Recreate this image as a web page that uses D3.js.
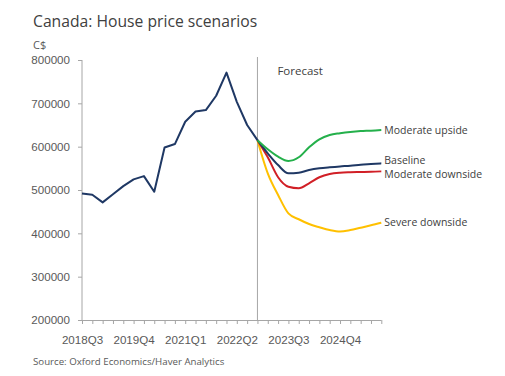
<!DOCTYPE html>
<html>
<head>
<meta charset="utf-8">
<script src="https://cdn.jsdelivr.net/npm/d3@7"></script>
<style>
  body { margin: 0; background: #fff; }
  svg { display: block; font-family: "Open Sans", "Noto Sans", sans-serif; }
  .axis path, .axis line { stroke: #a6a6a6; }
  .axis text { fill: #595959; font-size: 11.6px; }
</style>
</head>
<body>
<svg></svg>
<script>
// quarters on the category axis
const quarters = [
  "2018Q3", "2018Q4", "2019Q1", "2019Q2", "2019Q3", "2019Q4",
  "2020Q1", "2020Q2", "2020Q3", "2020Q4", "2021Q1", "2021Q2",
  "2021Q3", "2021Q4", "2022Q1", "2022Q2", "2022Q3", "2022Q4",
  "2023Q1", "2023Q2", "2023Q3", "2023Q4", "2024Q1", "2024Q2",
  "2024Q3", "2024Q4", "2025Q1", "2025Q2", "2025Q3", "2025Q4"
];
const tickLabels = ["2018Q3", "2019Q4", "2021Q1", "2022Q2", "2023Q3", "2024Q4"];
const yTicks = [200000, 300000, 400000, 500000, 600000, 700000, 800000];

// history, 2018Q3 - 2022Q4
const history = [
  492000, 489000, 471500, 490000, 509000, 524500, 532000, 496000, 598000,
  606000, 657500, 681000, 684500, 717500, 771000, 703500, 650000, 615000
];

// scenarios, 2022Q4 - 2025Q4
const forecastStart = "2022Q4";
const upside = [615000, 594000, 577000, 567000, 575500, 598500, 617000, 627000, 631000, 634000, 636000, 637000, 638500];
const baseline = [615000, 584500, 557500, 538500, 540000, 546000, 550000, 552500, 554500, 556000, 558500, 560000, 561500];
const modDownside = [615000, 575500, 529500, 507500, 504000, 515500, 529500, 537000, 540000, 541000, 541500, 542000, 543000];
const severe = [615000, 538500, 488500, 446000, 432500, 421500, 414000, 407500, 404000, 407500, 413000, 418500, 424500];

const scenarioNames = ["Moderate upside", "Baseline", "Moderate downside", "Severe downside"];
const scenarioValues = [upside, baseline, modDownside, severe];
const scenarioColors = ["#24b04b", "#1f3864", "#d11f26", "#ffc000"];

const width = 505;
const height = 376;
const mLeft = 82, mRight = 381.3, mTop = 60, mBottom = 320;

const svg = d3.select("svg")
  .attr("width", width)
  .attr("height", height);

const x = d3.scalePoint().domain(quarters).range([mLeft, mRight]);
const y = d3.scaleLinear().domain([200000, 800000]).range([mBottom, mTop]);

// axes
const xAxis = d3.axisBottom(x)
  .tickSize(4)
  .tickFormat(d => tickLabels.includes(d) ? d : "");
svg.append("g")
  .attr("class", "axis")
  .attr("transform", `translate(0, ${mBottom})`)
  .call(xAxis)
  .call(g => g.select(".domain").attr("d", `M${mLeft},0.5H${mRight}`))
  .call(g => g.selectAll("text").attr("dy", "1.5em"));

const yAxis = d3.axisLeft(y)
  .tickValues(yTicks)
  .tickSize(4)
  .tickPadding(8)
  .tickFormat(d3.format("d"));
svg.append("g")
  .attr("class", "axis")
  .attr("transform", `translate(${mLeft}, 0)`)
  .call(yAxis)
  .call(g => g.select(".domain").attr("d", `M0,${mTop}V${mBottom}`));

// forecast divider
svg.append("line")
  .attr("x1", x(forecastStart)).attr("x2", x(forecastStart))
  .attr("y1", 57).attr("y2", mBottom)
  .attr("stroke", "#a6a6a6")
  .attr("stroke-width", 1);

svg.append("text")
  .attr("x", x(forecastStart) + 20)
  .attr("y", 75)
  .attr("fill", "#404040")
  .style("font-size", "11.5px")
  .text("Forecast");

// lines
const line = d3.line()
  .x(d => x(d[0]))
  .y(d => y(d[1]));

const fq = quarters.slice(quarters.indexOf(forecastStart));

scenarioValues.slice().reverse().forEach((vals, k) => {
  const i = scenarioValues.length - 1 - k;
  svg.append("path")
    .datum(vals.map((v, j) => [fq[j], v]))
    .attr("fill", "none")
    .attr("stroke", scenarioColors[i])
    .attr("stroke-width", 2)
    .attr("stroke-linejoin", "round")
    .attr("d", line.curve(d3.curveMonotoneX));
});

svg.append("path")
  .datum(history.map((v, j) => [quarters[j], v]))
  .attr("fill", "none")
  .attr("stroke", "#1f3864")
  .attr("stroke-width", 2)
  .attr("stroke-linejoin", "round")
  .attr("d", line.curve(d3.curveLinear));

// end labels
const labelDy = [0, -3.5, 2.5, 0];
scenarioNames.forEach((name, i) => {
  const vals = scenarioValues[i];
  svg.append("text")
    .attr("x", mRight + 3)
    .attr("y", y(vals[vals.length - 1]) + labelDy[i])
    .attr("dy", "0.35em")
    .attr("fill", "#404040")
    .style("font-size", "10.5px")
    .text(name);
});

// titles
svg.append("text")
  .attr("x", 33).attr("y", 27)
  .attr("fill", "#404040")
  .style("font-size", "15.7px")
  .text("Canada: House price scenarios");

svg.append("text")
  .attr("x", 33).attr("y", 49)
  .attr("fill", "#595959")
  .style("font-size", "11px")
  .text("C$");

svg.append("text")
  .attr("x", 33).attr("y", 365)
  .attr("fill", "#595959")
  .style("font-size", "9.7px")
  .text("Source: Oxford Economics/Haver Analytics");
</script>
</body>
</html>
